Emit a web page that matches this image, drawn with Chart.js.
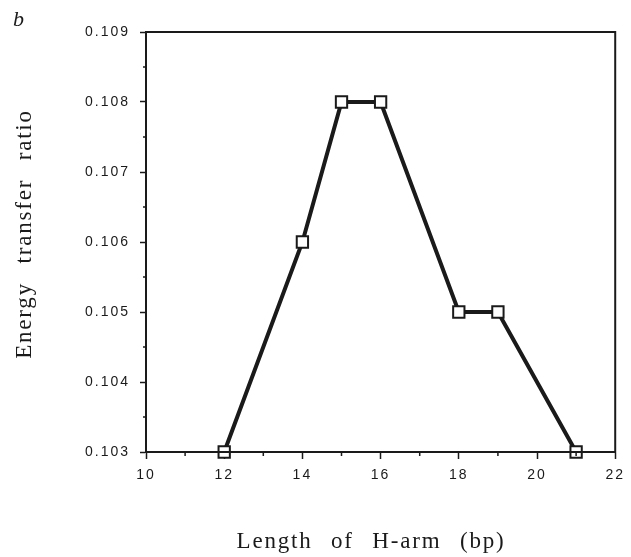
<!DOCTYPE html>
<html>
<head>
<meta charset="utf-8">
<script src="https://cdn.jsdelivr.net/npm/chart.js@4.4.0/dist/chart.umd.min.js"></script>
<style>
  html, body { margin: 0; padding: 0; background: #fff; }
  #wrap { width: 631px; height: 557px; position: relative; }
</style>
</head>
<body>
<div id="wrap"><canvas id="chart" width="631" height="557"></canvas></div>
<script>
// data
const armLength = [12, 14, 15, 16, 18, 19, 21];
const transferRatio = [0.103, 0.106, 0.108, 0.108, 0.105, 0.105, 0.103];
const xMinorTicks = [11, 13, 15, 17, 19, 21];
const yMinorTicks = [0.1035, 0.1045, 0.1055, 0.1065, 0.1075, 0.1085];
const xTitle = "Length of H-arm (bp)";
const yTitle = "Energy transfer ratio";
const panelLabel = "b";

const ink = "#1a1a1a";

// frame, minor ticks, axis titles and panel letter
const decorations = {
  id: "decorations",
  beforeDraw: function(chart){
    chart.ctx.letterSpacing = "2px";
  },
  afterDraw: function(chart){
    let ctx = chart.ctx;
    let area = chart.chartArea;
    let xs = chart.scales.x;
    let ys = chart.scales.y;
    ctx.save();
    ctx.strokeStyle = ink;
    ctx.lineWidth = 2;
    ctx.strokeRect(area.left, area.top, area.right - area.left, area.bottom - area.top);

    ctx.lineWidth = 1.5;
    ctx.beginPath();
    xMinorTicks.forEach(function(v){
      let px = xs.getPixelForValue(v);
      ctx.moveTo(px, area.bottom);
      ctx.lineTo(px, area.bottom + 4);
    });
    yMinorTicks.forEach(function(v){
      let py = ys.getPixelForValue(v);
      ctx.moveTo(area.left, py);
      ctx.lineTo(area.left - 3, py);
    });
    ctx.stroke();

    ctx.fillStyle = ink;
    ctx.font = "23px 'Liberation Serif', serif";
    ctx.letterSpacing = "1.8px";
    ctx.wordSpacing = "11px";
    ctx.textAlign = "center";
    ctx.textBaseline = "alphabetic";
    ctx.fillText(xTitle, 371, 548);

    ctx.save();
    ctx.translate(31, 234);
    ctx.rotate(-Math.PI / 2);
    ctx.fillText(yTitle, 0, 0);
    ctx.restore();

    ctx.letterSpacing = "0px";
    ctx.wordSpacing = "0px";
    ctx.font = "italic 22px 'Liberation Serif', serif";
    ctx.textAlign = "left";
    ctx.textBaseline = "middle";
    ctx.fillText(panelLabel, 13, 20);
    ctx.restore();
  }
};

const points = armLength.map(function(x, i){
  return {x: x, y: transferRatio[i]};
});

new Chart(document.getElementById("chart"), {
  type: "line",
  data: {
    datasets: [{
      data: points,
      borderColor: ink,
      borderWidth: 4,
      tension: 0,
      pointStyle: "rect",
      pointRadius: 8,
      pointHoverRadius: 8,
      pointBackgroundColor: "#fff",
      pointBorderColor: ink,
      pointBorderWidth: 2,
      clip: false
    }]
  },
  options: {
    responsive: false,
    animation: false,
    events: [],
    layout: {padding: {top: 32, right: 14, left: 0, bottom: 0}},
    plugins: {legend: {display: false}, tooltip: {enabled: false}},
    scales: {
      x: {
        type: "linear",
        min: 10,
        max: 22,
        afterFit: function(scale){ scale.height = 105; },
        grid: {drawOnChartArea: false, drawTicks: true, tickLength: 7, tickColor: ink, tickWidth: 1.5},
        border: {display: true, color: ink, width: 2},
        ticks: {
          stepSize: 2,
          padding: 8,
          color: ink,
          font: {family: "'Liberation Sans', Arial, sans-serif", size: 14},
          maxRotation: 0
        }
      },
      y: {
        type: "linear",
        min: 0.103,
        max: 0.109,
        afterFit: function(scale){ scale.width = 146; },
        grid: {drawOnChartArea: false, drawTicks: true, tickLength: 6, tickColor: ink, tickWidth: 1.5},
        border: {display: true, color: ink, width: 2},
        ticks: {
          stepSize: 0.001,
          padding: 10,
          color: ink,
          font: {family: "'Liberation Sans', Arial, sans-serif", size: 14},
          callback: function(v){ return v.toFixed(3); }
        }
      }
    }
  },
  plugins: [decorations]
});
</script>
</body>
</html>
